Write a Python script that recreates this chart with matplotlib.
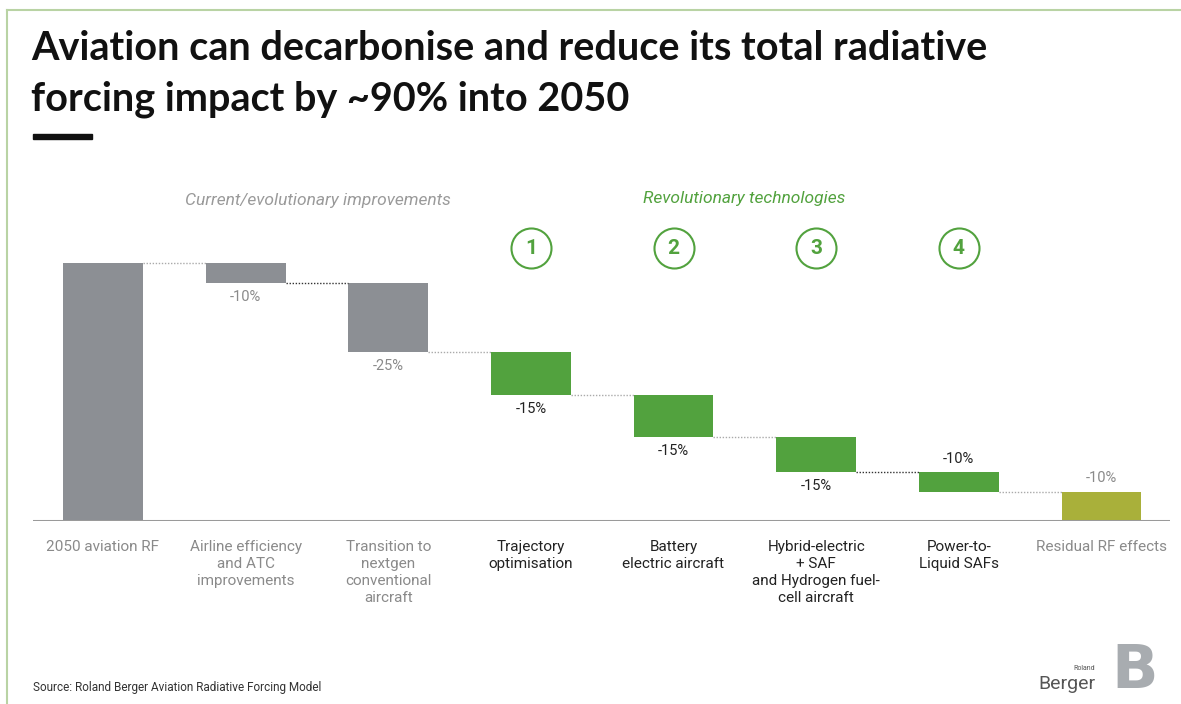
import matplotlib.pyplot as plt
from matplotlib.lines import Line2D
from matplotlib.patches import Rectangle

# waterfall data (heights, % of 2050 aviation RF)
categories = ['2050 aviation RF',
              'Airline efficiency\nand ATC\nimprovements',
              'Transition to\nnextgen\nconventional\naircraft',
              'Trajectory\noptimisation',
              'Battery\nelectric aircraft',
              'Hybrid-electric\n+ SAF\nand Hydrogen fuel-\ncell aircraft',
              'Power-to-\nLiquid SAFs',
              'Residual RF effects']
start_value = 100.0
reductions = [7.8, 26.8, 16.7, 16.3, 13.6, 7.4]
residual = 11.4
value_labels = ['-10%', '-25%', '-15%', '-15%', '-15%', '-10%', '-10%']
circle_numbers = ['1', '2', '3', '4']

grey = '#8c8f94'
green = '#52a23e'
olive = '#a9b03a'
txt_grey = '#8a8a8a'

W, H = 1181, 704
fig = plt.figure(figsize=(W / 100, H / 100), dpi=100)

def px(x0, y0, w, h):
    # pixel box (top-left origin) -> figure fraction
    return [x0 / W, 1 - (y0 + h) / H, w / W, h / H]

ax = fig.add_axes(px(33, 180, 1137, 341))
ax.set_xlim(-0.49, 7.48)
ax.set_ylim(0, 341 / 258 * 100)
ax.axis('off')

bw = 0.56
# first bar
ax.bar(0, start_value, width=bw, color=grey)
level = start_value
tops = [level]
for i, r in enumerate(reductions):
    col = grey if i < 2 else green
    ax.bar(i + 1, r, bottom=level - r, width=bw, color=col)
    level -= r
    tops.append(level)
ax.bar(7, residual, bottom=0, width=bw, color=olive)

# connectors
dark_links = {1, 5}
for i in range(7):
    y = tops[i]
    c = '#333333' if i in dark_links else '#aaaaaa'
    ax.plot([i + bw / 2, i + 1 - bw / 2], [y, y], ls=(0, (1, 1.2)),
            color=c, lw=1.0)

# baseline
ax.axhline(0, xmin=0, xmax=1, color='#9a9a9a', lw=2.2)

# value labels
vfs = 10.5
for i in range(6):
    bottom = tops[i + 1]
    col = txt_grey if i < 2 else '#222222'
    if i == 5:
        ax.text(i + 1, tops[i] + 2.5, value_labels[i], ha='center', va='bottom',
                fontsize=vfs, color=col, family='Roboto')
    else:
        ax.text(i + 1, bottom - 2.5, value_labels[i], ha='center', va='top',
                fontsize=vfs, color=col, family='Roboto')
ax.text(7, residual + 2.5, value_labels[6], ha='center', va='bottom',
        fontsize=vfs, color=txt_grey, family='Roboto')

# category labels
for i, lab in enumerate(categories):
    col = '#222222' if 3 <= i <= 6 else txt_grey
    ax.text(i, -7.5, lab, ha='center', va='top', fontsize=11, color=col,
            family='Roboto', linespacing=1.25, clip_on=False)

# numbered circles
for k, n in enumerate(circle_numbers):
    xi = 3 + k
    ax.scatter([xi], [105.8], s=830, facecolor='white', edgecolor=green,
               lw=1.5, zorder=3, clip_on=False)
    ax.text(xi, 105.8, n, ha='center', va='center', fontsize=15,
            color=green, fontweight='bold', family='Roboto', zorder=4)

# group headers
fig.text(318 / W, 1 - 200 / H, 'Current/evolutionary improvements',
         ha='center', va='center', fontsize=12.5, style='italic',
         color='#9a9a9a', family='Roboto')
fig.text(744 / W, 1 - 199 / H, 'Revolutionary technologies',
         ha='center', va='center', fontsize=12.5, style='italic',
         color=green, family='Roboto')

# title
fig.text(31 / W, 1 - 49 / H, 'Aviation can decarbonise and reduce its total radiative',
         ha='left', va='center', fontsize=28.5, fontweight='bold', family='Lato',
         color='#111111')
fig.text(31 / W, 1 - 99 / H, 'forcing impact by ~90% into 2050',
         ha='left', va='center', fontsize=28.5, fontweight='bold', family='Lato',
         color='#111111')
fig.add_artist(Rectangle((33 / W, 1 - 139 / H), 59 / W, 5 / H,
                         transform=fig.transFigure, color='#111111'))

# source
fig.text(33 / W, 1 - 688 / H, 'Source: Roland Berger Aviation Radiative Forcing Model',
         ha='left', va='center', fontsize=8.5, color='#333333', family='Roboto')

# logo
fig.text(1095 / W, 1 - 669 / H, 'Roland', ha='right', va='center', fontsize=5,
         color='#555555', family='Roboto')
fig.text(1095 / W, 1 - 684 / H, 'Berger', ha='right', va='center', fontsize=14,
         color='#555555', family='Roboto')
fig.text(1135 / W, 1 - 672 / H, 'B', ha='center', va='center', fontsize=44,
         fontweight='bold', color='#a8acb0', family='DejaVu Sans')

# frame lines of the slide
fig.add_artist(Line2D([7 / W, 1], [1 - 10 / H, 1 - 10 / H],
                      transform=fig.transFigure, color='#b9d3a4', lw=1.5))
fig.add_artist(Line2D([7 / W, 7 / W], [0, 1 - 10 / H],
                      transform=fig.transFigure, color='#b9d3a4', lw=1.5))

fig.savefig('out.png', dpi=100)
